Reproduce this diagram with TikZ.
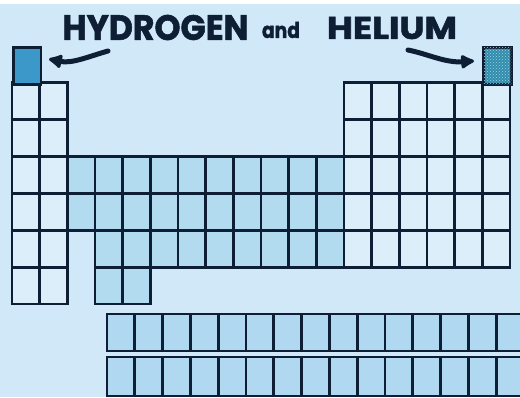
\documentclass[tikz,border=0pt]{standalone}
\usepackage{fontspec}
\usepackage{graphicx}
\usetikzlibrary{arrows.meta,patterns}
\newfontfamily\handfont[FakeBold=1.6]{Poppins}
\definecolor{bg}{RGB}{208,232,247}
\definecolor{ink}{RGB}{14,30,52}
\definecolor{spfill}{RGB}{220,238,250}
\definecolor{dfill}{RGB}{178,219,240}
\definecolor{ffill}{RGB}{176,217,241}
\definecolor{hblue}{RGB}{60,152,200}
\definecolor{heblue}{RGB}{50,140,172}
\definecolor{hedots}{RGB}{150,212,228}
\begin{document}
\begin{tikzpicture}[x=1pt,y=-1pt,
  spcell/.style={draw=ink,fill=spfill,line width=2.8pt},
  dcell/.style={draw=ink,fill=dfill,line width=2.8pt},
  fcell/.style={draw=ink,fill=ffill,line width=2.8pt},
  bigcell/.style={draw=ink,line width=2.8pt,minimum width=27.67pt,minimum height=36.86pt,inner sep=0pt,anchor=north west},
  title/.style={text=ink,inner sep=0pt},
  pointer/.style={draw=ink,line width=5pt,line cap=round,-{Latex[length=16pt,width=17pt,round]}}]
\useasboundingbox (0,0) rectangle (520,397);
\fill[bg] (0,0) rectangle (520,397);
\fill[white] (0,0) rectangle (520,4);
% s-block columns 1-2, rows 2-7
\foreach \c in {1,2} \foreach \r in {2,...,7}
  \draw[spcell] ({12+(\c-1)*27.67},{46+(\r-1)*36.86}) rectangle ++(27.67,36.86);
% p-block columns 13-18, rows 2-6
\foreach \c in {13,...,18} \foreach \r in {2,...,6}
  \draw[spcell] ({12+(\c-1)*27.67},{46+(\r-1)*36.86}) rectangle ++(27.67,36.86);
% d-block
\foreach \c in {3,...,12} \foreach \r in {4,5}
  \draw[dcell] ({12+(\c-1)*27.67},{46+(\r-1)*36.86}) rectangle ++(27.67,36.86);
\foreach \c in {4,...,12}
  \draw[dcell] ({12+(\c-1)*27.67},{46+5*36.86}) rectangle ++(27.67,36.86);
\foreach \c in {4,5}
  \draw[dcell] ({12+(\c-1)*27.67},{46+6*36.86}) rectangle ++(27.67,36.86);
% hydrogen and helium
\node[bigcell,fill=hblue] (H) at (12,46) {};
\node[bigcell,fill=heblue,postaction={pattern=crosshatch dots,pattern color=hedots}] (He) at (482.4,46) {};
% f-block rows
\begin{scope}
\clip (0,0) rectangle (520,397);
\foreach \i in {0,...,14} {
  \draw[fcell] ({107+\i*27.8},314) rectangle ++(27.8,37);
  \draw[fcell] ({107+\i*27.8},357) rectangle ++(27.8,39);
}
\end{scope}
% title
\node[title] (t1) at (155.5,27.5) {\resizebox{186pt}{25pt}{\handfont\bfseries HYDROGEN}};
\node[title] (t2) at (281,30) {\resizebox{38pt}{16pt}{\handfont\bfseries and}};
\node[title] (t3) at (392,28) {\resizebox{130pt}{22pt}{\handfont\bfseries HELIUM}};
% arrows
\coordinate (la) at (108,51);
\coordinate (lt) at (49,59);
\coordinate (ra) at (408,50);
\coordinate (rt) at (474,61);
\draw[pointer] (la) .. controls (90,56) and (72,64) .. (lt);
\draw[pointer] (ra) .. controls (428,54) and (445,63) .. (rt);
\end{tikzpicture}
\end{document}
